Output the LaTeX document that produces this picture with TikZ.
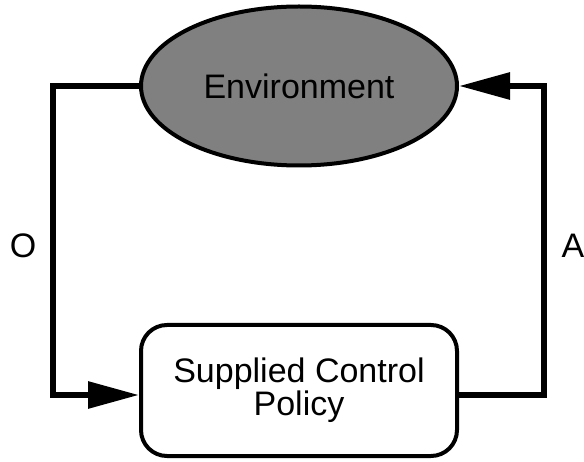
\documentclass[tikz,border=0pt]{standalone}
\usepackage{fontspec}
\setmainfont{Liberation Sans}
\usetikzlibrary{shapes.geometric,arrows.meta}
\definecolor{envgray}{RGB}{128,128,128}
\begin{document}
\begin{tikzpicture}[x=1pt,y=-1pt,
  envnode/.style={ellipse,draw=black,line width=4pt,fill=envgray,minimum width=316pt,minimum height=159pt,inner sep=0pt},
  boxnode/.style={rectangle,rounded corners=26pt,draw=black,line width=4pt,fill=white,minimum width=316pt,minimum height=131pt,inner sep=0pt,align=center},
  conn/.style={line width=6pt,draw=black},
  tip/.style={-{Triangle[length=51pt,width=26pt]}},
  lbl/.style={inner sep=0pt}
]
\useasboundingbox (0,0) rectangle (584,462);
\node[envnode] (env) at (299,86) {\fontsize{34}{38}\selectfont Environment};
\node[boxnode] (box) at (299,390.5) {\fontsize{34}{40}\selectfont Supplied Control\\\fontsize{34}{40}\selectfont Policy};
\coordinate (lt) at (53,86);
\coordinate (lb) at (53,395);
\coordinate (rb) at (544,395);
\coordinate (rt) at (544,86);
\draw[conn,tip] (env.west) -- (lt) -- (lb) -- (lb -| box.west);
\draw[conn,tip] (rb -| box.east) -- (rb) -- (rt) -- (env.east);
\node[lbl] (o) at (23,246) {\fontsize{34}{38}\selectfont O};
\node[lbl] (a) at (573,246) {\fontsize{34}{38}\selectfont A};
\end{tikzpicture}
\end{document}
